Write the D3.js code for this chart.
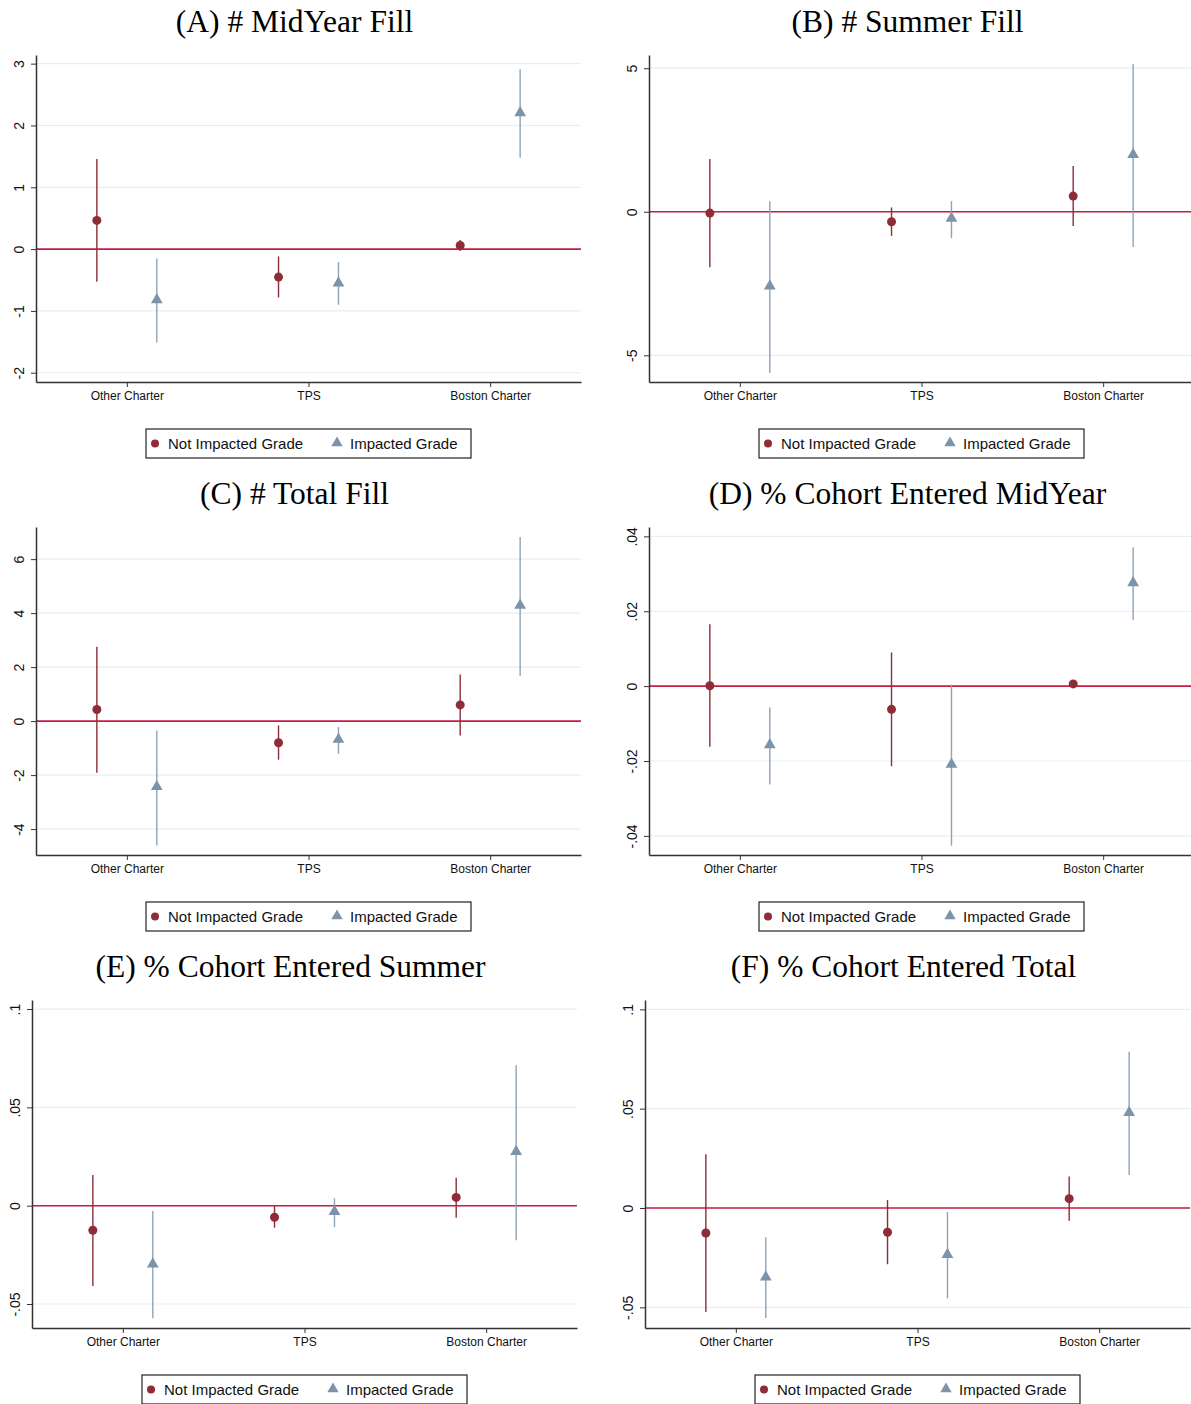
<!DOCTYPE html>
<html lang="en">
<head>
    <meta charset="UTF-8">
    <title>Fill and cohort entry estimates</title>
    <script src="https://cdnjs.cloudflare.com/ajax/libs/d3/7.9.0/d3.min.js"></script>
    <style>
        body {
            margin: 0;
            background: #fff;
        }
        .panel-title {
            font-family: "Liberation Serif", "Times New Roman", serif;
            font-size: 31.5px;
            fill: #000;
            text-anchor: middle;
        }
        .axis text {
            font-family: Arial, "Liberation Sans", sans-serif;
            fill: #111;
        }
        .legend-text {
            font-family: Arial, "Liberation Sans", sans-serif;
            font-size: 15px;
            fill: #111;
        }
    </style>
</head>
<body>
<script>
    const categories = ["Other Charter", "TPS", "Boston Charter"];
    const seriesNames = ["Not Impacted Grade", "Impacted Grade"];
    const panelTitles = [
        "(A) # MidYear Fill", "(B) # Summer Fill",
        "(C) # Total Fill", "(D) % Cohort Entered MidYear",
        "(E) % Cohort Entered Summer", "(F) % Cohort Entered Total"
    ];

    // y axis ticks and their labels, one row per panel
    const yTicks = [
        [-2, -1, 0, 1, 2, 3],
        [-5, 0, 5],
        [-4, -2, 0, 2, 4, 6],
        [-0.04, -0.02, 0, 0.02, 0.04],
        [-0.05, 0, 0.05, 0.1],
        [-0.05, 0, 0.05, 0.1]
    ];
    const yTickLabels = [
        ["-2", "-1", "0", "1", "2", "3"],
        ["-5", "0", "5"],
        ["-4", "-2", "0", "2", "4", "6"],
        ["-.04", "-.02", "0", ".02", ".04"],
        ["-.05", "0", ".05", ".1"],
        ["-.05", "0", ".05", ".1"]
    ];
    const yDomains = [
        [-2.15, 3.14],
        [-5.93, 5.46],
        [-4.96, 7.19],
        [-0.0451, 0.0425],
        [-0.0622, 0.1046],
        [-0.0604, 0.1047]
    ];

    // point estimates and 95% CI, per panel, per category
    const notImpactedEst = [
        [0.464, -0.453, 0.059],
        [-0.046, -0.35, 0.546],
        [0.43, -0.80, 0.60],
        [0.0001, -0.0062, 0.0006],
        [-0.0125, -0.0059, 0.0042],
        [-0.0126, -0.0122, 0.0047]
    ];
    const notImpactedLo = [
        [-0.529, -0.782, -0.032],
        [-1.93, -0.84, -0.50],
        [-1.91, -1.43, -0.53],
        [-0.0162, -0.0214, 0.0001],
        [-0.0408, -0.0112, -0.0061],
        [-0.0524, -0.0283, -0.0064]
    ];
    const notImpactedHi = [
        [1.456, -0.119, 0.146],
        [1.835, 0.15, 1.59],
        [2.75, -0.16, 1.73],
        [0.0165, 0.009, 0.0012],
        [0.0156, -0.0002, 0.0142],
        [0.0271, 0.004, 0.0159]
    ];
    const impactedEst = [
        [-0.82, -0.55, 2.206],
        [-2.59, -0.23, 1.99],
        [-2.43, -0.68, 4.29],
        [-0.0157, -0.0209, 0.0276],
        [-0.0297, -0.003, 0.0275],
        [-0.0348, -0.0234, 0.048]
    ];
    const impactedLo = [
        [-1.51, -0.90, 1.478],
        [-5.62, -0.92, -1.23],
        [-4.61, -1.21, 1.68],
        [-0.0263, -0.0426, 0.0177],
        [-0.0573, -0.0108, -0.0176],
        [-0.0554, -0.0455, 0.0166]
    ];
    const impactedHi = [
        [-0.151, -0.21, 2.91],
        [0.37, 0.37, 5.15],
        [-0.345, -0.22, 6.82],
        [-0.0057, 0.0004, 0.0371],
        [-0.0027, 0.0037, 0.0714],
        [-0.0147, -0.002, 0.0787]
    ];

    const width = 1191, height = 1404;
    const notColor = "#8e2c37", impColor = "#7b93ab", impLine = "#8ea3b9";
    const zeroColor = "#c81e43", gridColor = "#e6eff1", axisColor = "#333";
    const offset = 0.165; // horizontal shift of the two series around each category

    const svg = d3.select("body").append("svg")
        .attr("width", width)
        .attr("height", height);

    const rowTops = [55, 527, 1000];
    const rowBottoms = [382, 855, 1328];

    panelTitles.forEach((title, i) => {
        const col = i % 2, row = Math.floor(i / 2);
        const shift = row === 2 ? -4 : 0;
        const left = (col === 0 ? 36 : 649) + shift;
        const right = left + 545;
        const top = rowTops[row], bottom = rowBottoms[row];

        const x = d3.scaleLinear().domain([0.5, 3.5]).range([left, right]);
        const y = d3.scaleLinear().domain(yDomains[i]).range([bottom, top]);
        const g = svg.append("g");

        // title
        g.append("text")
            .attr("class", "panel-title")
            .attr("x", (left + right) / 2 - 14)
            .attr("y", top - 23)
            .text(title);

        // gridlines
        g.selectAll(".grid")
            .data(yTicks[i])
            .join("line")
            .attr("x1", left).attr("x2", right)
            .attr("y1", d => y(d)).attr("y2", d => y(d))
            .attr("stroke", gridColor)
            .attr("stroke-width", 1.2);

        // zero reference line
        g.append("line")
            .attr("x1", left).attr("x2", right)
            .attr("y1", y(0)).attr("y2", y(0))
            .attr("stroke", zeroColor)
            .attr("stroke-width", 1.6);

        // y axis
        const yAxis = g.append("g")
            .attr("class", "axis")
            .attr("transform", `translate(${left},0)`)
            .call(d3.axisLeft(y)
                .tickValues(yTicks[i])
                .tickFormat((d, k) => yTickLabels[i][k])
                .tickSize(5)
                .tickSizeOuter(0));
        yAxis.selectAll(".tick text")
            .attr("x", null).attr("dy", null)
            .attr("y", -12)
            .attr("transform", "rotate(-90)")
            .attr("text-anchor", "middle")
            .style("font-size", "14px");

        // x axis
        const xAxis = g.append("g")
            .attr("class", "axis")
            .attr("transform", `translate(0,${bottom})`)
            .call(d3.axisBottom(x)
                .tickValues([1, 2, 3])
                .tickFormat((d, k) => categories[k])
                .tickSize(5)
                .tickSizeOuter(0)
                .tickPadding(4));
        xAxis.selectAll(".tick text").style("font-size", "12px");

        [yAxis, xAxis].forEach(a => {
            a.selectAll("path, line").attr("stroke", axisColor);
            a.select(".domain").attr("stroke-width", 1.5);
        });

        const notData = categories.map((c, k) => ({
            pos: k + 1 - offset,
            est: notImpactedEst[i][k], lo: notImpactedLo[i][k], hi: notImpactedHi[i][k]
        }));
        const impData = categories.map((c, k) => ({
            pos: k + 1 + offset,
            est: impactedEst[i][k], lo: impactedLo[i][k], hi: impactedHi[i][k]
        }));

        // confidence intervals
        g.selectAll(".ci-not")
            .data(notData)
            .join("line")
            .attr("x1", d => x(d.pos)).attr("x2", d => x(d.pos))
            .attr("y1", d => y(d.lo)).attr("y2", d => y(d.hi))
            .attr("stroke", notColor)
            .attr("stroke-width", 1.4);

        g.selectAll(".ci-imp")
            .data(impData)
            .join("line")
            .attr("x1", d => x(d.pos)).attr("x2", d => x(d.pos))
            .attr("y1", d => y(d.lo)).attr("y2", d => y(d.hi))
            .attr("stroke", impLine)
            .attr("stroke-width", 1.4);

        // point estimates
        g.selectAll(".pt-not")
            .data(notData)
            .join("circle")
            .attr("cx", d => x(d.pos))
            .attr("cy", d => y(d.est))
            .attr("r", 4.5)
            .attr("fill", notColor);

        g.selectAll(".pt-imp")
            .data(impData)
            .join("path")
            .attr("d", d3.symbol(d3.symbolTriangle, 60))
            .attr("transform", d => `translate(${x(d.pos)},${y(d.est)})`)
            .attr("fill", impColor);

        // legend
        const cx = (left + right) / 2;
        const lg = g.append("g").attr("transform", `translate(${cx - 162.5},${bottom + 47})`);
        lg.append("rect")
            .attr("width", 325).attr("height", 29)
            .attr("fill", "none")
            .attr("stroke", "#222")
            .attr("stroke-width", 1.2);
        lg.append("circle")
            .attr("cx", 9).attr("cy", 14.5).attr("r", 4)
            .attr("fill", notColor);
        lg.append("text")
            .attr("class", "legend-text")
            .attr("x", 22).attr("y", 20)
            .text(seriesNames[0]);
        lg.append("path")
            .attr("d", d3.symbol(d3.symbolTriangle, 56))
            .attr("transform", "translate(191,14)")
            .attr("fill", impColor);
        lg.append("text")
            .attr("class", "legend-text")
            .attr("x", 204).attr("y", 20)
            .text(seriesNames[1]);
    });
</script>
</body>
</html>
